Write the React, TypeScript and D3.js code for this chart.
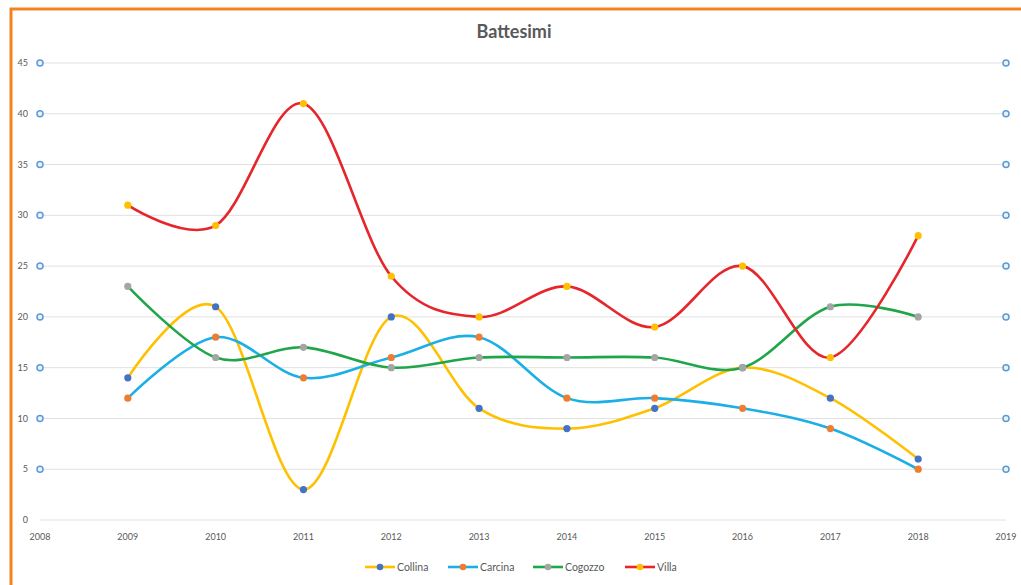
import { scaleLinear, line as d3_line, curveCatmullRom } from "d3"

const years = [2009, 2010, 2011, 2012, 2013, 2014, 2015, 2016, 2017, 2018]
const xTicks = [2008, 2009, 2010, 2011, 2012, 2013, 2014, 2015, 2016, 2017, 2018, 2019]
const yTicks = [0, 5, 10, 15, 20, 25, 30, 35, 40, 45]
// the hollow blue dots that sit on both ends of the grid
const edgeYears = [2008, 2019]
const edgeValues = [5, 10, 15, 20, 25, 30, 35, 40, 45]

const collina = [14, 21, 3, 20, 11, 9, 11, 15, 12, 6]
const carcina = [12, 18, 14, 16, 18, 12, 12, 11, 9, 5]
const cogozzo = [23, 16, 17, 15, 16, 16, 16, 15, 21, 20]
const villa = [31, 29, 41, 24, 20, 23, 19, 25, 16, 28]

const series = [
  { name: "Collina", values: collina, stroke: "#FFC000", marker: "#4472C4" },
  { name: "Carcina", values: carcina, stroke: "#1CAFE6", marker: "#ED7D31" },
  { name: "Cogozzo", values: cogozzo, stroke: "#1FA64A", marker: "#A5A5A5" },
  { name: "Villa", values: villa, stroke: "#E5262A", marker: "#FFC000" },
]

const W = 1021
const H = 585
const font = "Lato, 'Open Sans', sans-serif"

export default function App() {
  const x = scaleLinear().domain([2008, 2019]).range([40, 1006])
  const y = scaleLinear().domain([0, 45]).range([520, 63])

  const line = d3_line<number>()
    .x((_, i) => x(years[i]))
    .y((d) => y(d))
    .curve(curveCatmullRom.alpha(0))

  // legend layout
  const legendX = [365, 448, 533, 625]

  return (
    <div style={{ position: "fixed", left: 0, top: 0, width: W, height: H, background: "#fff" }}>
      <svg width={W} height={H} style={{ display: "block" }}>
        <rect x={0} y={0} width={W} height={H} fill="#fff" />
        {/* orange frame, cut by the picture on right and bottom */}
        <rect x={11} y={9} width={W + 20} height={H + 20} fill="none" stroke="#F58220" strokeWidth={3} />

        <text x={514} y={38} textAnchor="middle" fontFamily={font} fontWeight="bold" fontSize={18} fill="#595959">
          Battesimi
        </text>

        {/* grid */}
        {yTicks.map((v) => (
          <line key={v} x1={x(2008)} x2={x(2019)} y1={y(v)} y2={y(v)} stroke="#E0E0E0" strokeWidth={1} />
        ))}

        {/* y labels */}
        {yTicks.map((v) => (
          <text key={v} x={28} y={y(v)} dy=".35em" textAnchor="end" fontFamily={font} fontSize={9} fill="#595959">
            {v}
          </text>
        ))}

        {/* x labels */}
        {xTicks.map((t) => (
          <text key={t} x={x(t)} y={540} textAnchor="middle" fontFamily={font} fontSize={9} fill="#595959">
            {t}
          </text>
        ))}

        {edgeYears.map((yr) =>
          edgeValues.map((v) => (
            <circle key={`${yr}-${v}`} cx={x(yr)} cy={y(v)} r={3} fill="#EAF2FB" stroke="#5B9BD5" strokeWidth={1.5} />
          ))
        )}

        {series.map((s) => (
          <g key={s.name}>
            <path d={line(s.values) ?? ""} fill="none" stroke={s.stroke} strokeWidth={2.6} strokeLinecap="round" />
            {s.values.map((v, i) => (
              <circle key={i} cx={x(years[i])} cy={y(v)} r={3.6} fill={s.marker} />
            ))}
          </g>
        ))}

        {/* legend */}
        {series.map((s, i) => (
          <g key={s.name} transform={`translate(${legendX[i]},567)`}>
            <line x1={0} x2={30} y1={0} y2={0} stroke={s.stroke} strokeWidth={2.6} />
            <circle cx={15} cy={0} r={3.3} fill={s.marker} />
            <text x={32} y={0} dy=".35em" fontFamily={font} fontSize={10.5} fill="#595959">
              {s.name}
            </text>
          </g>
        ))}
      </svg>
    </div>
  )
}
